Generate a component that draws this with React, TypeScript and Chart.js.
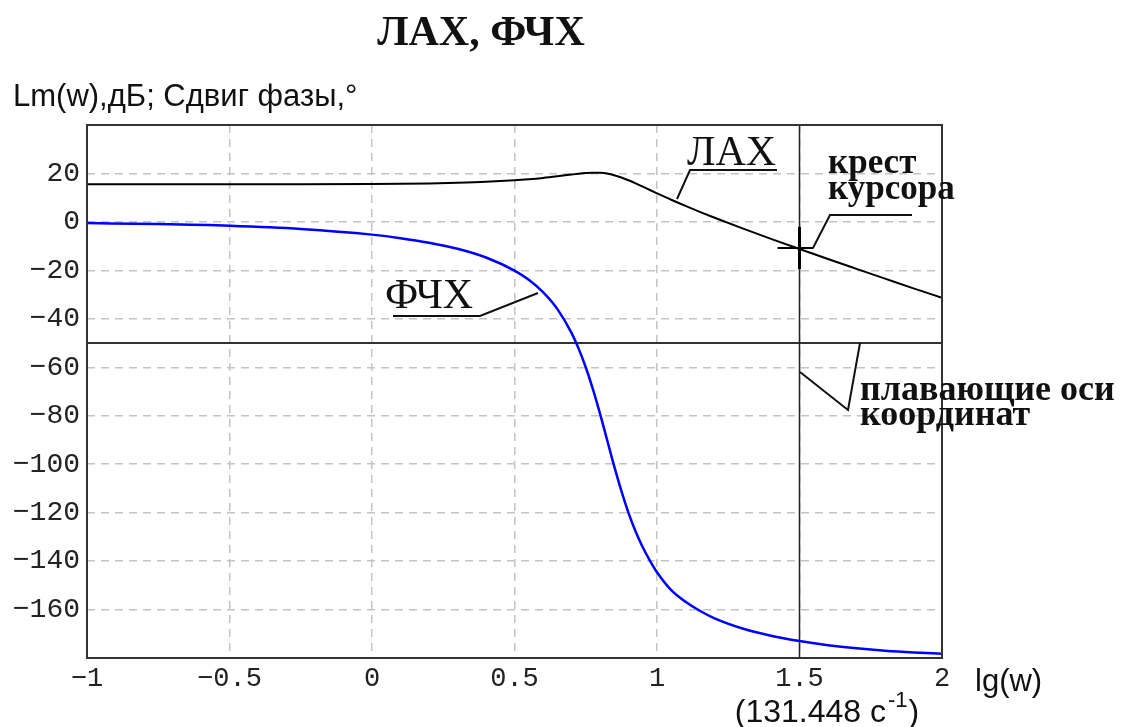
import React, { useEffect, useRef } from "react";
import { Chart, registerables } from "chart.js";

Chart.register(...registerables);

// lg(w) sample points
const lgW = [-1, -0.75, -0.5, -0.25, 0, 0.1, 0.2, 0.3, 0.4, 0.5, 0.55, 0.6, 0.65, 0.7, 0.725, 0.75, 0.775, 0.8, 0.825, 0.85, 0.875, 0.9, 0.925, 0.95, 0.975, 1.0, 1.05, 1.1, 1.15, 1.2, 1.3, 1.4, 1.5, 1.6, 1.7, 1.8, 1.9, 2.0];
// ЛАХ, dB
const laxDb = [15.5, 15.5, 15.52, 15.55, 15.66, 15.75, 15.9, 16.15, 16.53, 17.16, 17.6, 18.14, 18.81, 19.55, 19.9, 20.18, 20.34, 20.28, 19.94, 19.28, 18.34, 17.18, 15.9, 14.55, 13.17, 11.81, 9.14, 6.6, 4.16, 1.81, -2.68, -6.99, -11.18, -15.3, -19.37, -23.42, -27.45, -31.3];
// ФЧХ, degrees
const phaseDeg = [-0.5, -0.9, -1.6, -2.9, -5.25, -6.7, -8.6, -11.1, -14.7, -20.1, -23.9, -29.0, -35.9, -45.8, -52.3, -60.0, -69.0, -79.1, -90.0, -100.9, -111.0, -120.1, -127.8, -134.3, -139.8, -144.6, -152.0, -156.8, -160.5, -163.5, -167.8, -170.8, -173.0, -174.7, -176.0, -177.0, -177.7, -178.2];

const xMin = -1, xMax = 2, xStep = 0.5;
const yMin = -180, yMax = 40, yStep = 20;
const hiddenYTicks = [40, -180];

// floating axes / cursor
const cursorX = 1.5;
const floatAxisY = -50;
const cursorLax = -11.18;

const SERIF = '"Liberation Serif", "Times New Roman", serif';
const SANS = '"Liberation Sans", Arial, sans-serif';
const MONO = '"Liberation Mono", "DejaVu Sans Mono", monospace';

const fmt = (v: number) => String(v).replace("-", "\u2212");

const overlay = {
  id: "overlay",
  beforeDatasetsDraw(chart: any) {
    const { ctx, chartArea: a, scales } = chart;
    const px = scales.x.getPixelForValue(cursorX);
    const py = scales.y.getPixelForValue(floatAxisY);
    ctx.save();
    ctx.strokeStyle = "#333";
    ctx.lineWidth = 2;
    ctx.beginPath();
    ctx.moveTo(a.left, py);
    ctx.lineTo(a.right, py);
    ctx.stroke();
    ctx.lineWidth = 1.5;
    ctx.strokeStyle = "#222";
    ctx.beginPath();
    ctx.moveTo(px, a.top);
    ctx.lineTo(px, a.bottom);
    ctx.stroke();
    ctx.restore();
  },
  afterDraw(chart: any) {
    const { ctx, chartArea: a, scales } = chart;
    ctx.save();
    // frame
    ctx.strokeStyle = "#333";
    ctx.lineWidth = 2;
    ctx.strokeRect(a.left, a.top, a.right - a.left, a.bottom - a.top);

    // cursor cross
    const cx = scales.x.getPixelForValue(cursorX);
    const cy = scales.y.getPixelForValue(cursorLax);
    ctx.strokeStyle = "#000";
    ctx.lineWidth = 2;
    ctx.beginPath();
    ctx.moveTo(cx - 22, cy - 1);
    ctx.lineTo(cx + 14, cy - 1);
    ctx.stroke();
    ctx.lineWidth = 3;
    ctx.beginPath();
    ctx.moveTo(cx, cy - 22);
    ctx.lineTo(cx, cy + 20);
    ctx.stroke();

    ctx.fillStyle = "#111";
    ctx.textBaseline = "alphabetic";
    // title
    ctx.font = `bold 42px ${SERIF}`;
    ctx.textAlign = "center";
    ctx.fillText("ЛАХ, ФЧХ", 481, 45);

    ctx.textAlign = "left";
    ctx.font = `31px ${SANS}`;
    ctx.fillText("Lm(w),дБ; Сдвиг фазы,°", 13, 106);

    ctx.font = `31px ${SANS}`;
    ctx.fillText("lg(w)", 975, 691);

    // (131.448 с^-1)
    const p1 = "(131.448 с";
    const p2 = "-1";
    const p3 = ")";
    ctx.font = `32px ${SANS}`;
    const w1 = ctx.measureText(p1).width;
    const w3 = ctx.measureText(p3).width;
    ctx.font = `22px ${SANS}`;
    const w2 = ctx.measureText(p2).width;
    let x0 = 827 - (w1 + w2 + w3 + 3) / 2;
    ctx.font = `32px ${SANS}`;
    ctx.fillText(p1, x0, 722);
    x0 += w1 + 2;
    ctx.font = `22px ${SANS}`;
    ctx.fillText(p2, x0, 707);
    x0 += w2 + 1;
    ctx.font = `32px ${SANS}`;
    ctx.fillText(p3, x0, 722);

    // annotations
    ctx.strokeStyle = "#111";
    ctx.lineWidth = 2;
    ctx.font = `42px ${SERIF}`;
    ctx.fillText("ЛАХ", 687, 165);
    ctx.beginPath();
    ctx.moveTo(777, 170);
    ctx.lineTo(690, 170);
    ctx.lineTo(677, 199);
    ctx.stroke();

    ctx.fillText("ФЧХ", 385, 308);
    ctx.beginPath();
    ctx.moveTo(393, 316);
    ctx.lineTo(480, 316);
    ctx.lineTo(538, 293);
    ctx.stroke();

    ctx.font = `bold 35px ${SERIF}`;
    ctx.fillText("крест", 828, 173);
    ctx.fillText("курсора", 828, 199);
    ctx.beginPath();
    ctx.moveTo(912, 215);
    ctx.lineTo(830, 215);
    ctx.lineTo(813, 248);
    ctx.stroke();

    ctx.font = `bold 36px ${SERIF}`;
    ctx.fillText("плавающие оси", 860, 400);
    ctx.fillText("координат", 860, 425);
    ctx.beginPath();
    ctx.moveTo(860, 343);
    ctx.lineTo(848, 410);
    ctx.lineTo(800, 372);
    ctx.stroke();
    ctx.restore();
  },
};

export default function App() {
  const ref = useRef<HTMLCanvasElement | null>(null);
  useEffect(() => {
    if (!ref.current) return;
    const chart = new Chart(ref.current, {
      type: "line",
      data: {
        datasets: [
          {
            label: "ЛАХ",
            data: lgW.map((x, i) => ({ x, y: laxDb[i] })),
            borderColor: "#000",
            borderWidth: 2,
            pointRadius: 0,
            cubicInterpolationMode: "monotone",
          },
          {
            label: "ФЧХ",
            data: lgW.map((x, i) => ({ x, y: phaseDeg[i] })),
            borderColor: "#0000ff",
            borderWidth: 2.5,
            pointRadius: 0,
            cubicInterpolationMode: "monotone",
          },
        ],
      },
      options: {
        animation: false,
        responsive: false,
        layout: { padding: { left: 0, top: 125, right: 179, bottom: 0 } },
        plugins: { legend: { display: false }, title: { display: false }, tooltip: { enabled: false } },
        scales: {
          x: {
            type: "linear",
            min: xMin,
            max: xMax,
            afterFit: (s: any) => { s.height = 69; },
            ticks: {
              stepSize: xStep,
              padding: 5,
              color: "#222",
              font: { family: MONO, size: 27 },
              maxRotation: 0,
              callback: (v: any) => fmt(v),
            },
            grid: { color: "#c4c4c4", lineWidth: 1.5, drawTicks: false },
            border: { display: false, dash: [8, 6] },
          },
          y: {
            type: "linear",
            min: yMin,
            max: yMax,
            afterFit: (s: any) => { s.width = 87; },
            ticks: {
              stepSize: yStep,
              padding: 7,
              color: "#222",
              font: { family: MONO, size: 28 },
              callback: (v: any) => (hiddenYTicks.includes(v) ? "" : fmt(v)),
            },
            grid: { color: "#c4c4c4", lineWidth: 1.5, drawTicks: false },
            border: { display: false, dash: [8, 6] },
          },
        },
      },
      plugins: [overlay],
    } as any);
    return () => chart.destroy();
  }, []);
  return (
    <div style={{ position: "absolute", left: 0, top: 0 }}>
      <canvas ref={ref} width={1121} height={727} style={{ display: "block" }} />
    </div>
  );
}
